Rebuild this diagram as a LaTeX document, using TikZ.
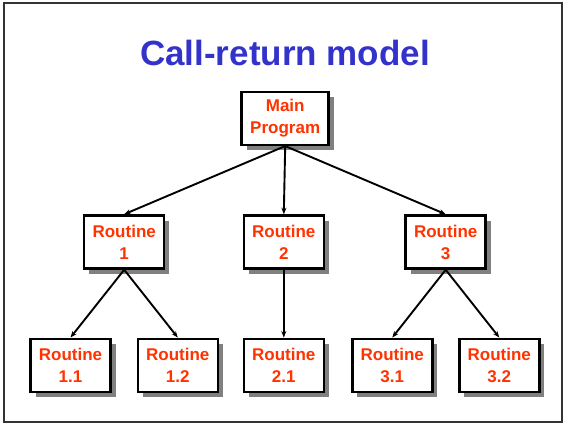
\documentclass[tikz,border=0pt]{standalone}
\usepackage{fontspec}
\setmainfont{Liberation Sans}
\usetikzlibrary{arrows.meta}
\usetikzlibrary{shadows}
\definecolor{titleblue}{RGB}{51,51,204}
\definecolor{routinered}{RGB}{255,51,0}
\tikzset{routine/.style={draw=black,line width=2.5pt,fill=white,text=routinered,inner sep=0pt,
	font=\fontsize{17}{22}\selectfont\bfseries,align=center,minimum width=#1,minimum height=53pt,
	drop shadow={shadow xshift=5pt,shadow yshift=-5pt,fill=gray,opacity=1}},routine/.default=80pt}
\tikzset{call/.style={color=#1,line width=1.9pt,-{Stealth[length=6.5pt,width=5pt]}},call/.default=black}
\tikzset{frame/.style={draw=#1,line width=1.8pt},frame/.default=black!80}

\begin{document}
\begin{tikzpicture}[x=1pt,y=-1pt]
		\useasboundingbox (0,0) rectangle (565,424);
		\draw [frame] (4,3) rectangle (562,422);
		\node [anchor=base,text=titleblue,font=\fontsize{35}{42}\selectfont\bfseries] (title) at (285,65.5) {Call-return model};
		
		\node [routine=87pt] (main) at (285.2,118.3) {Main\\Program};
		\node [routine] (r1) at (124.2,242) {Routine\\1};
		\node [routine] (r2) at (283.8,242) {Routine\\2};
		\node [routine] (r3) at (445.7,242) {Routine\\3};
		\node [routine] (r11) at (70.5,365.3) {Routine\\1.1};
		\node [routine] (r12) at (177.8,365.3) {Routine\\1.2};
		\node [routine] (r21) at (283.8,365.3) {Routine\\2.1};
		\node [routine] (r31) at (392.3,365.3) {Routine\\3.1};
		\node [routine] (r32) at (499.3,365.3) {Routine\\3.2};
		
		\draw [call] (main.south) -- (r1.north);
		\draw [call] (main.south) -- (r2.north);
		\draw [call] (main.south) -- (r3.north);
		\draw [call] (r1.south) -- (r11.north);
		\draw [call] (r1.south) -- (r12.north);
		\draw [call] (r2.south) -- (r21.north);
		\draw [call] (r3.south) -- (r31.north);
		\draw [call] (r3.south) -- (r32.north);
	\end{tikzpicture}
\end{document}
